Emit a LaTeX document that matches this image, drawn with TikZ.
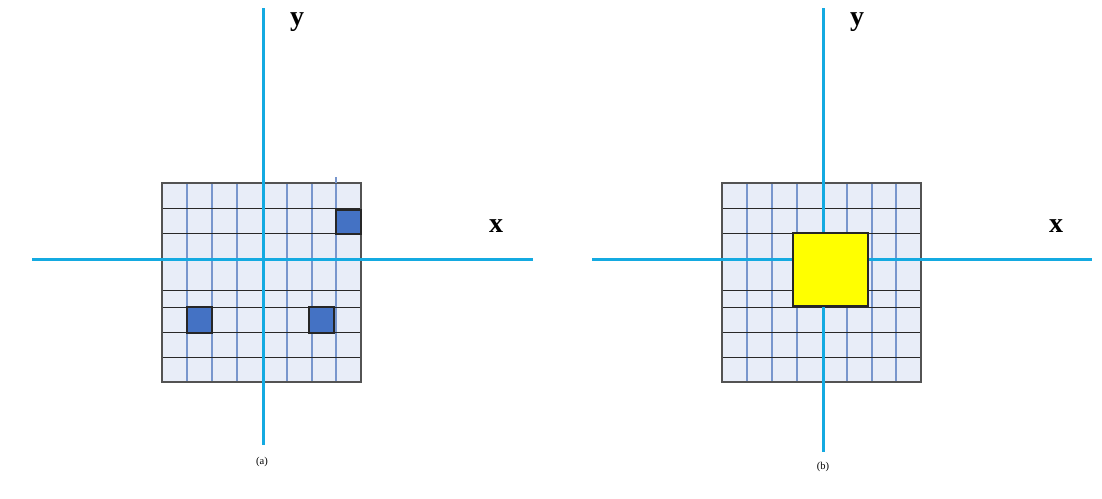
\documentclass[tikz,border=0pt]{standalone}
\usepackage{fontspec}
\setmainfont{Liberation Serif}
\definecolor{axiscol}{RGB}{20,170,225}
\definecolor{cellfill}{RGB}{232,237,248}
\definecolor{vline}{RGB}{120,150,205}
\definecolor{hline}{RGB}{40,40,40}
\definecolor{markfill}{RGB}{68,114,196}
\definecolor{sqyellow}{RGB}{255,255,0}
\tikzset{
  axisline/.style={draw=axiscol,line width=3pt},
  vgrid/.style={draw=vline,line width=1.5pt},
  hgrid/.style={draw=hline,line width=1pt},
  gridframe/.style={draw=hline!80,line width=1.2pt},
  marksq/.style={fill=markfill,draw=black!85,line width=1.2pt},
  bigsq/.style={fill=sqyellow,draw=black!85,line width=1.2pt},
  axlabel/.style={font=\bfseries\fontsize{28}{30}\selectfont,inner sep=0pt},
  caplabel/.style={font=\fontsize{10.5}{12}\selectfont,inner sep=0pt}
}
\begin{document}
\begin{tikzpicture}[x=1pt,y=-1pt]
\useasboundingbox (0,0) rectangle (1102,498);
% ---------- panel (a) ----------
\begin{scope}
\fill[cellfill] (162,183) rectangle (361,382);
\foreach \x in {187,212,237,287,312,336} \draw[vgrid] (\x,183) -- (\x,382);
\foreach \y in {208,233,290,307,332,357} \draw[hgrid] (162,\y) -- (361,\y);
\draw[gridframe] (162,183) rectangle (361,382);
\draw[vgrid] (336,177) -- (336,183);
\draw[marksq] (336,210) rectangle (361,234);
\draw[marksq] (187,307) rectangle (212,333);
\draw[marksq] (309,307) rectangle (334,333);
\coordinate (aL) at (32,259); \coordinate (aR) at (533,259);
\coordinate (aT) at (263,8); \coordinate (aB) at (263,445);
\draw[axisline] (aL) -- (aR);
\draw[axisline] (aT) -- (aB);
\node[axlabel] (ya) at (297,22) {y};
\node[axlabel] (xa) at (496,226) {x};
\node[caplabel] (capa) at (262,462) {(a)};
\end{scope}
% ---------- panel (b) ----------
\begin{scope}
\fill[cellfill] (722,183) rectangle (921,382);
\foreach \x in {747,772,797,847,872,896} \draw[vgrid] (\x,183) -- (\x,382);
\foreach \y in {208,233,290,307,332,357} \draw[hgrid] (722,\y) -- (921,\y);
\draw[gridframe] (722,183) rectangle (921,382);
\coordinate (bL) at (592,259); \coordinate (bR) at (1092,259);
\coordinate (bT) at (823,8); \coordinate (bB) at (823,452);
\draw[axisline] (bL) -- (bR);
\draw[axisline] (bT) -- (bB);
\draw[bigsq] (793,233) rectangle (868,306);
\node[axlabel] (yb) at (857,22) {y};
\node[axlabel] (xb) at (1056,226) {x};
\node[caplabel] (capb) at (823,467) {(b)};
\end{scope}
\end{tikzpicture}
\end{document}
